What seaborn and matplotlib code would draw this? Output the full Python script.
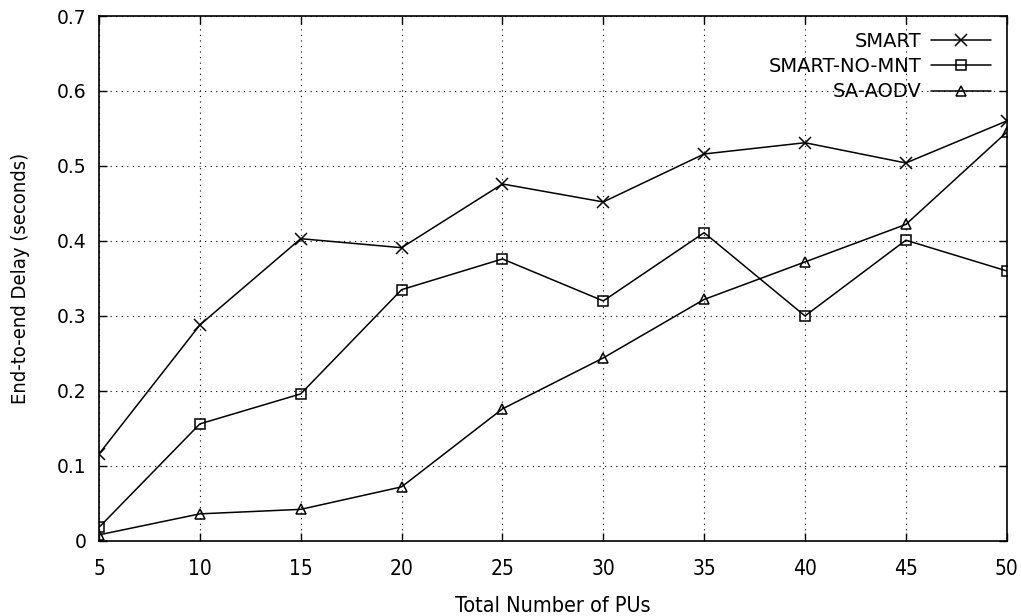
import matplotlib
matplotlib.use("Agg")
import matplotlib.pyplot as plt
import seaborn as sns
import pandas as pd

pus = [5, 10, 15, 20, 25, 30, 35, 40, 45, 50]
smart = [0.116, 0.288, 0.403, 0.391, 0.476, 0.452, 0.516, 0.531, 0.504, 0.560]
smart_no_mnt = [0.018, 0.156, 0.196, 0.335, 0.376, 0.320, 0.411, 0.300, 0.401, 0.360]
sa_aodv = [0.008, 0.036, 0.042, 0.072, 0.176, 0.244, 0.322, 0.372, 0.422, 0.545]

series_names = ["SMART", "SMART-NO-MNT", "SA-AODV"]
x_ticks = [5, 10, 15, 20, 25, 30, 35, 40, 45, 50]
y_ticks = [0, 0.1, 0.2, 0.3, 0.4, 0.5, 0.6, 0.7]
y_tick_labels = ["0", "0.1", "0.2", "0.3", "0.4", "0.5", "0.6", "0.7"]

sns.set_theme(style="white")
plt.rcParams["font.family"] = ["DejaVu Sans"]
plt.rcParams["text.color"] = "black"
plt.rcParams["axes.labelcolor"] = "black"

df = pd.DataFrame({
    "pus": pus * 3,
    "delay": smart + smart_no_mnt + sa_aodv,
    "series": [series_names[0]] * len(pus) + [series_names[1]] * len(pus) + [series_names[2]] * len(pus),
})

fig = plt.figure(figsize=(10.21, 6.16), dpi=100)
ax = fig.add_axes([0.097, 0.122, 0.889, 0.852])

markers = {"SMART": "x", "SMART-NO-MNT": "s", "SA-AODV": "^"}
sizes = {"SMART": 9, "SMART-NO-MNT": 7, "SA-AODV": 7}
for name in series_names:
    sub = df[df["series"] == name]
    sns.lineplot(data=sub, x="pus", y="delay", ax=ax, color="black", linewidth=1.1,
                 marker=markers[name], markersize=sizes[name], markerfacecolor="none",
                 markeredgecolor="black", markeredgewidth=1.1, label=name)

ax.set_xlim(5, 50)
ax.set_ylim(0, 0.7)
ax.set_xticks(x_ticks)
ax.set_yticks(y_ticks)
ax.set_yticklabels(y_tick_labels)
ax.grid(True, color="black", linestyle=(0, (1, 4)), linewidth=0.8)
ax.tick_params(direction="in", length=6, width=1, top=True, right=True, bottom=True, left=True,
               labelsize=13.5, colors="black")
ax.tick_params(axis="y", pad=9)
ax.tick_params(axis="x", pad=13)
for lab in ax.get_xticklabels():
    lab.set_fontstretch("condensed")
    lab.set_fontsize(15)
for s in ax.spines.values():
    s.set_color("black")
    s.set_linewidth(1.2)

ax.set_xlabel("Total Number of PUs", fontsize=15.5, fontstretch="condensed", labelpad=12, color="black")
ax.set_ylabel("End-to-end Delay (seconds)", fontsize=14.5, fontstretch="condensed", labelpad=19, color="black")

leg = ax.legend(loc="upper right", markerfirst=False, frameon=False, fontsize=14,
                handlelength=3.1, labelspacing=0.33, borderaxespad=0.4, handletextpad=0.5)
for t in leg.get_texts():
    t.set_color("black")

fig.savefig("out.png", dpi=100)
